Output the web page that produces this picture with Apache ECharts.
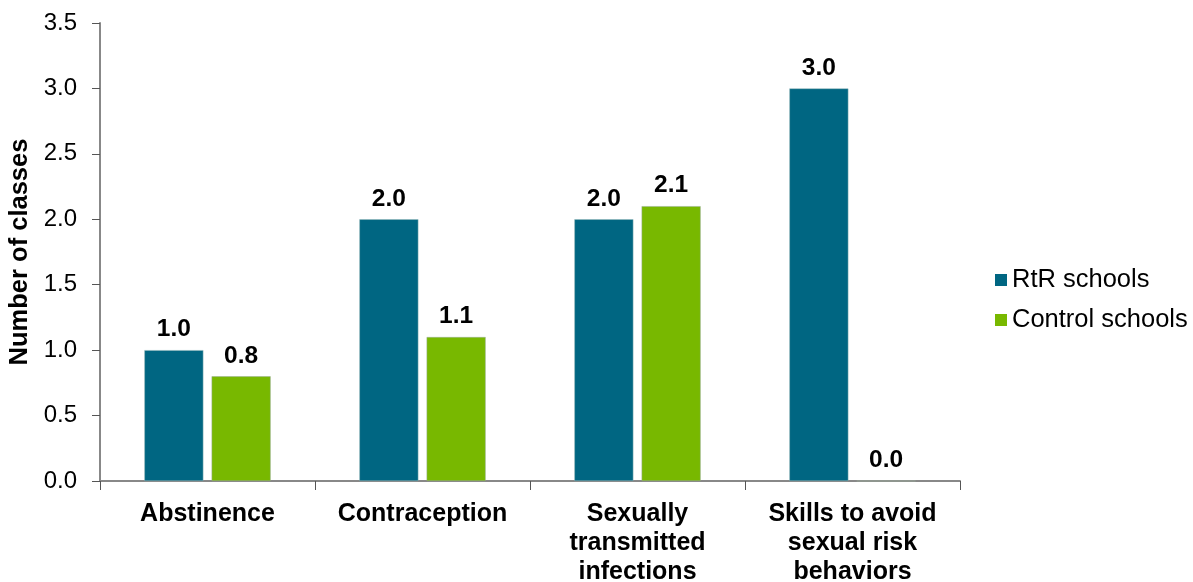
<!DOCTYPE html>
<html>
<head>
<meta charset="utf-8">
<script src="https://cdn.jsdelivr.net/npm/echarts@6/dist/echarts.min.js"></script>
<style>
  html, body { margin: 0; padding: 0; background: #fff; }
  #chart { width: 1193px; height: 582px; }
</style>
</head>
<body>
<div id="chart"></div>
<script>
var categories = ['Abstinence', 'Contraception', 'Sexually\ntransmitted\ninfections', 'Skills to avoid\nsexual risk\nbehaviors'];
var rtrValues = [1.0, 2.0, 2.0, 3.0];
var controlValues = [0.8, 1.1, 2.1, 0.0];
var seriesNames = ['RtR schools', 'Control schools'];

var myChart = echarts.init(document.getElementById('chart'));
var labelStyle = {
    show: true,
    position: 'top',
    distance: 8,
    formatter: function (p) { return p.value.toFixed(1); },
    fontFamily: 'Liberation Sans',
    fontWeight: 'bold',
    fontSize: 24.5,
    color: '#000'
};
var option = {
    animation: false,
    grid: { left: 100, right: 233, top: 23, bottom: 101, outerBoundsMode: 'none', containLabel: false },
    legend: {
        orient: 'vertical',
        left: 990,
        top: 262,
        icon: 'rect',
        itemWidth: 12,
        itemHeight: 12,
        itemGap: 14,
        itemStyle: { borderWidth: 0 },
        textStyle: { fontFamily: 'Liberation Sans', fontSize: 25.5, color: '#000', padding: [0, 0, 0, 0] },
        data: seriesNames
    },
    xAxis: {
        type: 'category',
        data: categories,
        axisLine: { lineStyle: { color: '#888', width: 2 } },
        axisTick: { show: true, alignWithLabel: false, length: 9, lineStyle: { color: '#555' } },
        axisLabel: {
            interval: 0,
            margin: 19,
            fontFamily: 'Liberation Sans',
            fontWeight: 'bold',
            fontSize: 25,
            lineHeight: 29,
            color: '#000'
        }
    },
    yAxis: {
        type: 'value',
        min: 0,
        max: 3.5,
        interval: 0.5,
        name: 'Number of classes',
        nameLocation: 'middle',
        nameGap: 64,
        nameTextStyle: { fontFamily: 'Liberation Sans', fontWeight: 'bold', fontSize: 25.5, color: '#000' },
        splitLine: { show: false },
        axisLine: { show: true, lineStyle: { color: '#888', width: 2 } },
        axisTick: { show: true, length: 8, lineStyle: { color: '#555' } },
        axisLabel: {
            margin: 23,
            formatter: function (v) { return v.toFixed(1); },
            fontFamily: 'Liberation Sans',
            fontSize: 24,
            color: '#000'
        }
    },
    series: [
        {
            name: seriesNames[0],
            type: 'bar',
            data: rtrValues,
            barWidth: 59,
            barGap: '14%',
            itemStyle: { color: '#006682', borderColor: '#9bb', borderWidth: 0.5 },
            label: labelStyle
        },
        {
            name: seriesNames[1],
            type: 'bar',
            data: controlValues,
            barWidth: 59,
            barGap: '14%',
            itemStyle: { color: '#78b800', borderColor: '#9a9', borderWidth: 0.5 },
            label: labelStyle
        }
    ]
};
myChart.setOption(option);
</script>
</body>
</html>
